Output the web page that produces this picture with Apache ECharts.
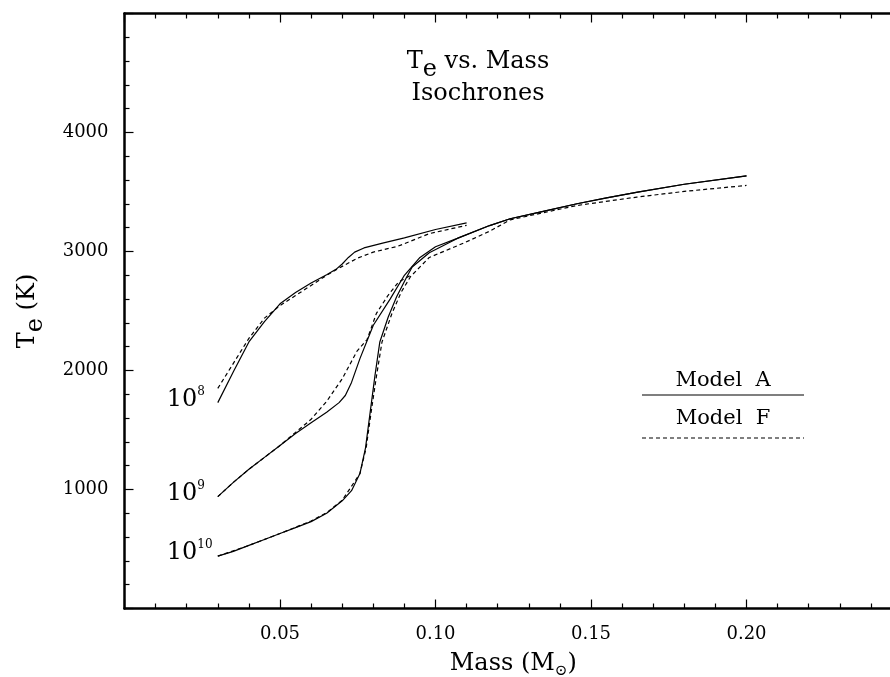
<!DOCTYPE html>
<html>
<head>
<meta charset="utf-8">
<script src="https://cdn.jsdelivr.net/npm/echarts@6.0.0/dist/echarts.min.js"></script>
<style>
html,body{margin:0;padding:0;background:#fff;overflow:hidden;width:890px;height:677px;}
#chart{width:906px;height:677px;}
</style>
</head>
<body>
<div id="chart"></div>
<script>
// ---- Data (Mass in solar masses, Te in K) ----
// 10^8 yr isochrone
const massA8 = [0.030, 0.035, 0.040, 0.045, 0.050, 0.055, 0.060, 0.065, 0.068, 0.070, 0.072, 0.074, 0.077, 0.083, 0.090, 0.100, 0.110];
const teA8   = [1730, 1990, 2240, 2410, 2560, 2655, 2735, 2805, 2850, 2895, 2950, 2995, 3030, 3070, 3115, 3185, 3240];
const massF8 = [0.030, 0.035, 0.040, 0.045, 0.050, 0.055, 0.060, 0.065, 0.070, 0.075, 0.080, 0.088, 0.098, 0.110];
const teF8   = [1850, 2060, 2270, 2440, 2545, 2630, 2715, 2800, 2875, 2945, 2995, 3045, 3150, 3220];
// 10^9 yr isochrone
const massA9 = [0.030, 0.035, 0.040, 0.045, 0.050, 0.055, 0.060, 0.065, 0.069, 0.071, 0.073, 0.0757, 0.080, 0.0854, 0.090, 0.095, 0.100, 0.107, 0.1174, 0.124, 0.135, 0.1455, 0.155, 0.165, 0.180, 0.200];
const teA9   = [940, 1060, 1170, 1270, 1370, 1470, 1560, 1650, 1730, 1790, 1900, 2100, 2380, 2600, 2800, 2950, 3040, 3110, 3218, 3275, 3340, 3401, 3450, 3499, 3565, 3635];
const massF9 = [0.030, 0.035, 0.040, 0.045, 0.050, 0.055, 0.060, 0.065, 0.070, 0.0747, 0.078, 0.081, 0.0847, 0.088, 0.092];
const teF9   = [940, 1060, 1170, 1270, 1370, 1480, 1590, 1740, 1930, 2160, 2260, 2480, 2630, 2740, 2800];
// 10^10 yr isochrone
const massA10 = [0.030, 0.035, 0.040, 0.045, 0.050, 0.055, 0.060, 0.065, 0.070, 0.073, 0.0757, 0.0775, 0.0790, 0.0805, 0.0821, 0.0848, 0.0875, 0.0907, 0.0925, 0.098, 0.107, 0.1174, 0.124, 0.135, 0.1455, 0.155, 0.165, 0.180, 0.200];
const teA10   = [440, 480, 530, 580, 630, 680, 730, 800, 905, 990, 1134, 1350, 1650, 1950, 2240, 2450, 2620, 2784, 2870, 2990, 3110, 3218, 3275, 3340, 3401, 3450, 3499, 3565, 3635];
const massF10 = [0.030, 0.040, 0.050, 0.060, 0.065, 0.070, 0.0757, 0.0777, 0.0793, 0.081, 0.0828, 0.086, 0.089, 0.092, 0.098, 0.109, 0.1174, 0.124, 0.1455, 0.1647, 0.180, 0.200];
const teF10   = [440, 530, 630, 735, 805, 910, 1134, 1350, 1650, 1950, 2240, 2480, 2660, 2790, 2950, 3070, 3170, 3266, 3387, 3457, 3505, 3555];

// Tick labels
const xTickLabels = ['0.05', '0.10', '0.15', '0.20'];
const yTickLabels = ['1000', '2000', '3000', '4000'];
// Curve labels
const ageBase = '10';
const ageExp = ['8', '9', '10'];

const SERIF = '"DejaVu Serif", "Liberation Serif", serif';

function lineSeries(name, m, t, dashed) {
  return {
    name: name,
    type: 'line',
    data: m.map(function (x, i) { return [x, t[i]]; }),
    showSymbol: false,
    symbol: 'none',
    smooth: false,
    silent: true,
    lineStyle: { color: '#000', width: 1.2, type: dashed ? [4, 3] : 'solid' },
    z: 3
  };
}

function ageLabelSeries(m, t, exp) {
  return {
    type: 'scatter',
    silent: true,
    symbolSize: 0.01,
    itemStyle: { color: '#000', opacity: 1 },
    data: [[m[0], t[0]]],
    label: {
      show: true,
      position: [-51, -3],
      align: 'left',
      verticalAlign: 'middle',
      color: '#000',
      formatter: '{b|' + ageBase + '}{p|' + exp + '}',
      rich: {
        b: { fontSize: 24, fontFamily: SERIF, color: '#000', lineHeight: 28 },
        p: { fontSize: 12, fontFamily: SERIF, color: '#000', lineHeight: 14, verticalAlign: 'top' }
      }
    },
    z: 4
  };
}

const axisLineStyle = { color: '#000', width: 2.5 };
function xAx(pos, showLabel) {
  return {
    type: 'value', position: pos, min: 0, max: 0.25, interval: 0.05,
    axisLine: { show: true, onZero: false, lineStyle: axisLineStyle },
    axisTick: { show: true, inside: true, length: 9, lineStyle: { color: '#000', width: 1.2 } },
    minorTick: { show: true, splitNumber: 5, length: 5, lineStyle: { color: '#000', width: 1.2 } },
    splitLine: { show: false },
    axisLabel: {
      show: showLabel, margin: 17, color: '#000', fontSize: 18, fontFamily: SERIF,
      formatter: function (v) {
        const s = v.toFixed(2);
        return xTickLabels.indexOf(s) >= 0 ? s : '';
      }
    }
  };
}
function yAx(pos, showLabel) {
  return {
    type: 'value', position: pos, min: 0, max: 5000, interval: 1000,
    axisLine: { show: true, onZero: false, lineStyle: axisLineStyle },
    axisTick: { show: true, inside: true, length: 9, lineStyle: { color: '#000', width: 1.2 } },
    minorTick: { show: true, splitNumber: 5, length: 5, lineStyle: { color: '#000', width: 1.2 } },
    splitLine: { show: false },
    axisLabel: {
      show: showLabel, margin: 16, color: '#000', fontSize: 18, fontFamily: SERIF,
      formatter: function (v) {
        const s = String(Math.round(v));
        return yTickLabels.indexOf(s) >= 0 ? s : '';
      }
    }
  };
}

const xBottom = xAx('bottom', true);
xBottom.name = '{t|Mass (M}{s|\u2299}{t|)}';
xBottom.nameLocation = 'middle';
xBottom.nameGap = 40;
xBottom.nameTextStyle = {
  rich: {
    t: { fontSize: 24, fontFamily: SERIF, color: '#000', lineHeight: 30 },
    s: { fontSize: 15, fontFamily: SERIF, color: '#000', lineHeight: 10, verticalAlign: 'bottom' }
  }
};
const yLeft = yAx('left', true);
yLeft.name = '{t|T}{s|e}{t| (K)}';
yLeft.nameLocation = 'middle';
yLeft.nameRotate = 90;
yLeft.nameGap = 77;
yLeft.nameTextStyle = {
  rich: {
    t: { fontSize: 24, fontFamily: SERIF, color: '#000', lineHeight: 40 },
    s: { fontSize: 24, fontFamily: SERIF, color: '#000', lineHeight: 15, verticalAlign: 'bottom' }
  }
};

const option = {
  backgroundColor: '#fff',
  animation: false,
  grid: { left: 124.5, right: 4, top: 13.5, bottom: 68.5, containLabel: false, outerBoundsMode: 'none' },
  xAxis: [xBottom, xAx('top', false)],
  yAxis: [yLeft, yAx('right', false)],
  series: [
    lineSeries('A 1e8', massA8, teA8, false),
    lineSeries('F 1e8', massF8, teF8, true),
    lineSeries('A 1e9', massA9, teA9, false),
    lineSeries('F 1e9', massF9, teF9, true),
    lineSeries('A 1e10', massA10, teA10, false),
    lineSeries('F 1e10', massF10, teF10, true),
    ageLabelSeries(massA8, teA8, ageExp[0]),
    ageLabelSeries(massA9, teA9, ageExp[1]),
    ageLabelSeries(massA10, teA10, ageExp[2])
  ],
  graphic: [
    {
      type: 'text', x: 478, y: 42, z: 10,
      style: {
        text: '{t|T}{s|e}{t| vs. Mass}\n{u|Isochrones}',
        align: 'center', textAlign: 'center',
        rich: {
          t: { fontSize: 24, fontFamily: SERIF, fill: '#000', color: '#000', lineHeight: 40, align: 'center' },
          s: { fontSize: 24, fontFamily: SERIF, fill: '#000', color: '#000', lineHeight: 15, verticalAlign: 'bottom' },
          u: { fontSize: 24, fontFamily: SERIF, fill: '#000', color: '#000', lineHeight: 24, align: 'center' }
        }
      }
    },
    {
      type: 'text', x: 723, y: 381, z: 10,
      style: { text: 'Model  A', font: '21px ' + SERIF, fill: '#000', align: 'center', textAlign: 'center', verticalAlign: 'middle', textVerticalAlign: 'middle' }
    },
    {
      type: 'line', z: 10,
      shape: { x1: 642, y1: 395, x2: 804, y2: 395 },
      style: { stroke: '#000', lineWidth: 1.2 }
    },
    {
      type: 'text', x: 723, y: 419, z: 10,
      style: { text: 'Model  F', font: '21px ' + SERIF, fill: '#000', align: 'center', textAlign: 'center', verticalAlign: 'middle', textVerticalAlign: 'middle' }
    },
    {
      type: 'line', z: 10,
      shape: { x1: 642, y1: 438, x2: 804, y2: 438 },
      style: { stroke: '#000', lineWidth: 1.2, lineDash: [4, 3] }
    }
  ]
};

const chart = echarts.init(document.getElementById('chart'), null, { renderer: 'canvas' });
chart.setOption(option);
</script>
</body>
</html>
